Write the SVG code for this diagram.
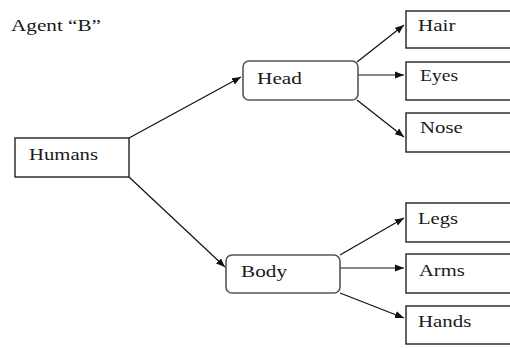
<svg xmlns="http://www.w3.org/2000/svg" width="510" height="348" viewBox="0 0 510 348">
  <defs>
    <marker id="arrow" viewBox="0 0 10 10" refX="10" refY="5" markerWidth="9" markerHeight="9" markerUnits="userSpaceOnUse" orient="auto">
      <path d="M0,1 L10,5 L0,9 Z" fill="#111"/>
    </marker>
  </defs>
  <style>
    text { font-family: "Liberation Serif", "Times New Roman", serif; font-size: 17px; fill: #1a1a1a; }
    .box { fill: #fff; stroke: #222; stroke-width: 1.4; }
    .rbox { fill: #fff; stroke: #555; stroke-width: 1.6; }
    .edge { fill: none; stroke: #111; stroke-width: 1.2; marker-end: url(#arrow); }
  </style>
  <rect width="510" height="348" fill="#fff"/>

  <text x="11" y="31" textLength="90" lengthAdjust="spacingAndGlyphs">Agent “B”</text>

  <g id="connectors">
    <line class="edge" x1="129" y1="138" x2="241" y2="77"/>
    <line class="edge" x1="129" y1="177" x2="225" y2="267"/>
    <line class="edge" x1="357" y1="62" x2="404" y2="25"/>
    <line class="edge" x1="358" y1="75" x2="404" y2="75"/>
    <line class="edge" x1="357" y1="100" x2="404" y2="137"/>
    <line class="edge" x1="340" y1="255" x2="404" y2="218"/>
    <line class="edge" x1="340" y1="268" x2="404" y2="268"/>
    <line class="edge" x1="340" y1="293" x2="404" y2="318"/>
  </g>

  <g id="humans">
    <rect class="box" x="15" y="138" width="114" height="39"/>
    <text x="29" y="160" textLength="69" lengthAdjust="spacingAndGlyphs">Humans</text>
  </g>
  <g id="head">
    <rect class="rbox" x="243" y="61" width="115" height="39" rx="6"/>
    <text x="257" y="84" textLength="45" lengthAdjust="spacingAndGlyphs">Head</text>
  </g>
  <g id="body">
    <rect class="rbox" x="226" y="255" width="114" height="38" rx="6"/>
    <text x="241" y="277" textLength="46" lengthAdjust="spacingAndGlyphs">Body</text>
  </g>
  <g id="hair">
    <rect class="box" x="406" y="11" width="110" height="37"/>
    <text x="418" y="31" textLength="37.5" lengthAdjust="spacingAndGlyphs">Hair</text>
  </g>
  <g id="eyes">
    <rect class="box" x="406" y="62" width="110" height="38"/>
    <text x="420" y="81" textLength="38" lengthAdjust="spacingAndGlyphs">Eyes</text>
  </g>
  <g id="nose">
    <rect class="box" x="406" y="113" width="110" height="39"/>
    <text x="420" y="133" textLength="42.7" lengthAdjust="spacingAndGlyphs">Nose</text>
  </g>
  <g id="legs">
    <rect class="box" x="406" y="203" width="110" height="39"/>
    <text x="418" y="224" textLength="40" lengthAdjust="spacingAndGlyphs">Legs</text>
  </g>
  <g id="arms">
    <rect class="box" x="406" y="254" width="110" height="39"/>
    <text x="419" y="276" textLength="45.7" lengthAdjust="spacingAndGlyphs">Arms</text>
  </g>
  <g id="hands">
    <rect class="box" x="406" y="306" width="110" height="38"/>
    <text x="418" y="327" textLength="53.4" lengthAdjust="spacingAndGlyphs">Hands</text>
  </g>
</svg>
